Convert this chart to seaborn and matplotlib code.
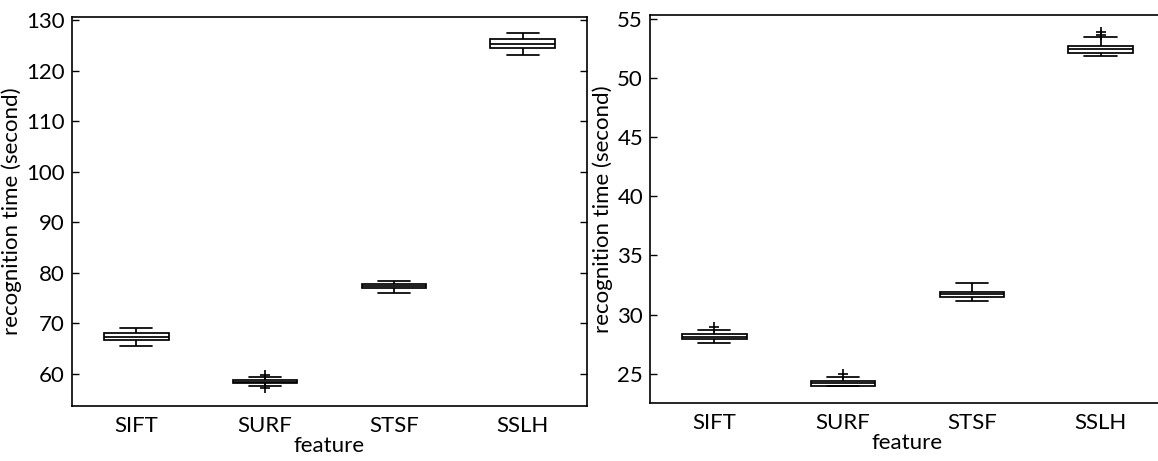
import matplotlib
matplotlib.use("Agg")
import matplotlib.pyplot as plt
import seaborn as sns
import pandas as pd

features = ["SIFT", "SURF", "STSF", "SSLH"]

# Left panel: box statistics (lower whisker, Q1, median, Q3, upper whisker)
left_whisker_lo = [65.4, 57.6, 75.9, 123.1]
left_q1 = [66.7, 58.2, 76.9, 124.5]
left_median = [67.3, 58.4, 77.3, 125.3]
left_q3 = [68.1, 58.7, 77.7, 126.3]
left_whisker_hi = [69.1, 59.4, 78.4, 127.4]
left_outliers = {"SURF": [59.8, 57.1]}

# Right panel: box statistics
right_whisker_lo = [27.6, 23.95, 31.2, 51.8]
right_q1 = [27.95, 24.0, 31.5, 52.1]
right_median = [28.15, 24.2, 31.75, 52.4]
right_q3 = [28.4, 24.4, 31.95, 52.7]
right_whisker_hi = [28.7, 24.75, 32.65, 53.4]
right_outliers = {"SIFT": [29.0], "SURF": [25.0], "SSLH": [53.65, 53.85]}

left_yticks = [60, 70, 80, 90, 100, 110, 120, 130]
right_yticks = [25, 30, 35, 40, 45, 50, 55]


def box_table(lo, q1, med, q3, hi):
    rows = []
    for i, f in enumerate(features):
        for v in (lo[i], q1[i], med[i], q3[i], hi[i]):
            rows.append({"feature": f, "time": v})
    return pd.DataFrame(rows)


def outlier_table(outliers):
    rows = [{"feature": f, "time": v} for f, vals in outliers.items() for v in vals]
    return pd.DataFrame(rows)


sns.set_theme(style="ticks")
plt.rcParams["font.family"] = ["Lato", "DejaVu Sans"]
plt.rcParams["text.color"] = "black"
plt.rcParams["axes.labelcolor"] = "black"
plt.rcParams["xtick.color"] = "black"
plt.rcParams["ytick.color"] = "black"

FS = 16

fig = plt.figure(figsize=(11.58, 4.61), dpi=100)
ax_l = fig.add_axes([0.0622, 0.1193, 0.4447, 0.8438])
ax_r = fig.add_axes([0.5613, 0.1258, 0.4447, 0.8417])

panels = [
    (ax_l, box_table(left_whisker_lo, left_q1, left_median, left_q3, left_whisker_hi),
     outlier_table(left_outliers), (53.6, 130.6), left_yticks),
    (ax_r, box_table(right_whisker_lo, right_q1, right_median, right_q3, right_whisker_hi),
     outlier_table(right_outliers), (22.55, 55.3), right_yticks),
]

for ax, df, out, ylim, yticks in panels:
    sns.boxplot(data=df, x="feature", y="time", order=features, ax=ax,
                whis=(0, 100), width=0.5, color="white", linecolor="black",
                linewidth=1.25, showfliers=False)
    sns.scatterplot(data=out, x="feature", y="time", ax=ax, marker="+",
                    color="black", s=45, linewidth=1.2, legend=False)
    ax.set_xlim(-0.5, 3.5)
    ax.set_ylim(*ylim)
    ax.set_yticks(yticks)
    ax.set_xlabel("feature", fontsize=FS, labelpad=0)
    ax.set_ylabel("recognition time (second)", fontsize=FS, labelpad=3)
    ax.tick_params(axis="y", direction="in", length=5, width=1, right=True,
                   labelsize=FS, pad=5, color="black", labelcolor="black")
    ax.tick_params(axis="x", length=0, labelsize=FS, pad=7, labelcolor="black")
    for sp in ax.spines.values():
        sp.set_visible(True)
        sp.set_color("black")
        sp.set_linewidth(1.2)
    ax.set_facecolor("white")

fig.savefig("out.png", dpi=100, facecolor="white")
